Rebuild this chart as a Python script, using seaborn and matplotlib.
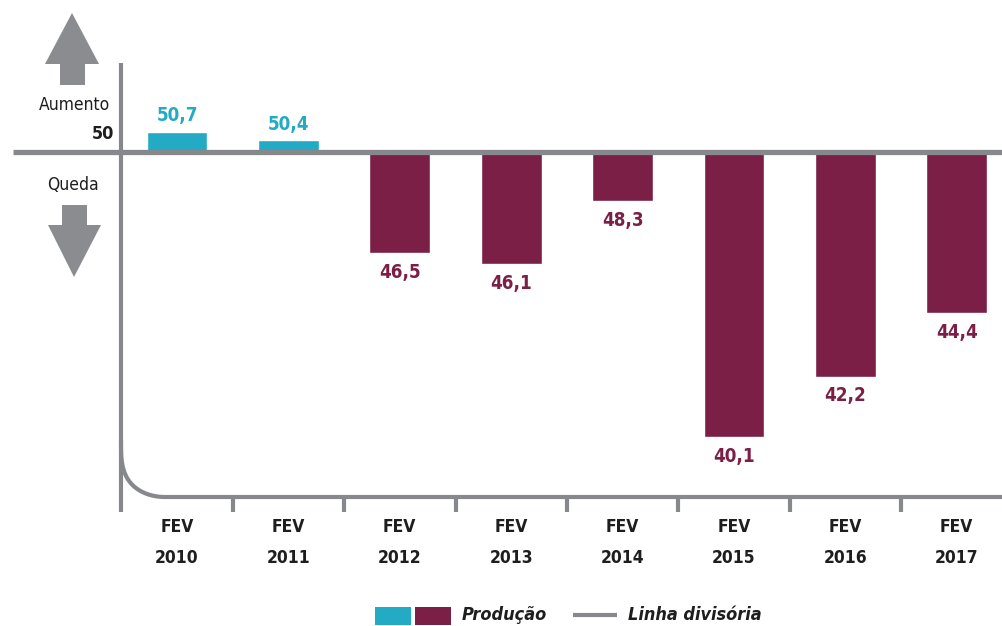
import matplotlib
matplotlib.use("Agg")
import matplotlib.pyplot as plt
from matplotlib.lines import Line2D
from matplotlib.patches import Polygon, Rectangle
import numpy as np
import pandas as pd
import seaborn as sns

# ---- data ----
categories = ["FEV\n2010", "FEV\n2011", "FEV\n2012", "FEV\n2013",
              "FEV\n2014", "FEV\n2015", "FEV\n2016", "FEV\n2017"]
producao = [50.7, 50.4, 46.5, 46.1, 48.3, 40.1, 42.2, 44.4]
baseline = 50
value_labels = ["50,7", "50,4", "46,5", "46,1", "48,3", "40,1", "42,2", "44,4"]

TEAL = "#23AAC4"
MAROON = "#7B1F47"
GRAY = "#87888C"
DARK = "#1E1E1E"

sns.set_theme(style="white")
plt.rcParams['font.family'] = ['DejaVu Sans']
plt.rcParams['font.stretch'] = 'condensed'

W, H = 1002, 626
fig = plt.figure(figsize=(W / 100, H / 100), dpi=100)


def fx(x):
    return x / W


def fy(y):
    return 1 - y / H


# axes: full width, from top down to pixel row 497
ax = fig.add_axes([0, fy(497), 1, 1 - fy(497)])

df = pd.DataFrame({
    "cat": categories,
    "dev": [v - baseline for v in producao],
})
colors = [TEAL if v >= baseline else MAROON for v in producao]
sns.barplot(data=df, x="cat", y="dev", hue="cat", palette=colors,
            width=0.545, legend=False, ax=ax, saturation=1)

ppu = 28.8  # pixels per unit
ax.set_ylim(-(497 - 152) / ppu, 152 / ppu)
ax.set_xlim(-177 / 111.4, (1002 - 177) / 111.4)
for s in ax.spines.values():
    s.set_visible(False)
ax.set_yticks([])
ax.set_xlabel("")
ax.set_ylabel("")
ax.tick_params(axis="x", which="major", length=0, pad=15, labelsize=12.5,
               labelcolor=DARK)
for t in ax.get_xticklabels():
    t.set_fontweight("bold")
    t.set_linespacing(1.95)
    t.set_fontstretch("condensed")
ax.set_xticks(np.arange(len(categories) - 1) + 0.5, minor=True)
ax.tick_params(axis="x", which="minor", length=11, width=3, color=GRAY,
               direction="out", bottom=True)

for cont, lab, col, v in zip(ax.containers, value_labels, colors, producao):
    ax.bar_label(cont, labels=[lab], color=col, fontsize=13.5, fontweight="bold",
                 fontstretch="condensed",
                 padding=5 if v >= baseline else 7)

# ---- decorations in pixel coords ----
def pline(xs, ys, lw, **kw):
    fig.add_artist(Line2D([fx(x) for x in xs], [fy(y) for y in ys],
                          color=GRAY, lw=lw, solid_capstyle="butt", **kw))

# horizontal divider at 50
pline([13, 1002], [152, 152], 3.8)
# vertical axis
pline([121, 121], [63, 512], 3.0)
# rounded bottom axis
t = np.linspace(0, np.pi / 2, 60)
cx = 165 - 44 * np.cos(t)
cy = 440 + 57 * np.sin(t) ** 0.6
pline(list(cx) + [1002], list(cy) + [497], 3.0)

# arrows
def poly(pts):
    fig.add_artist(Polygon([(fx(x), fy(y)) for x, y in pts], closed=True,
                           facecolor="#8B8C90", edgecolor="none"))

poly([(72, 13), (99, 64), (85, 64), (85, 85), (60, 85), (60, 64), (45, 64)])
poly([(62, 205), (87, 205), (87, 225), (101, 225), (74, 277), (48, 225), (62, 225)])

fig.text(fx(110), fy(105), "Aumento", ha="right", va="center", fontsize=12.5,
         color=DARK, fontstretch="condensed")
fig.text(fx(114), fy(134), "50", ha="right", va="center", fontsize=13,
         fontweight="bold", color=DARK, fontstretch="condensed")
fig.text(fx(73), fy(185), "Queda", ha="center", va="center", fontsize=12.5,
         color=DARK, fontstretch="condensed")

# legend
fig.add_artist(Rectangle((fx(375), fy(625)), fx(36), 18 / H,
                         facecolor=TEAL, edgecolor="none"))
fig.add_artist(Rectangle((fx(415), fy(625)), fx(36), 18 / H,
                         facecolor=MAROON, edgecolor="none"))
fig.text(fx(462), fy(615), "Produção", ha="left", va="center", fontsize=13,
         fontweight="bold", fontstyle="italic", color=DARK,
         fontstretch="condensed")
pline([573, 617], [615, 615], 3.0)
fig.text(fx(628), fy(615), "Linha divisória", ha="left", va="center",
         fontsize=13, fontweight="bold", fontstyle="italic", color=DARK,
         fontstretch="condensed")

fig.savefig("out.png", dpi=100, facecolor="white")
